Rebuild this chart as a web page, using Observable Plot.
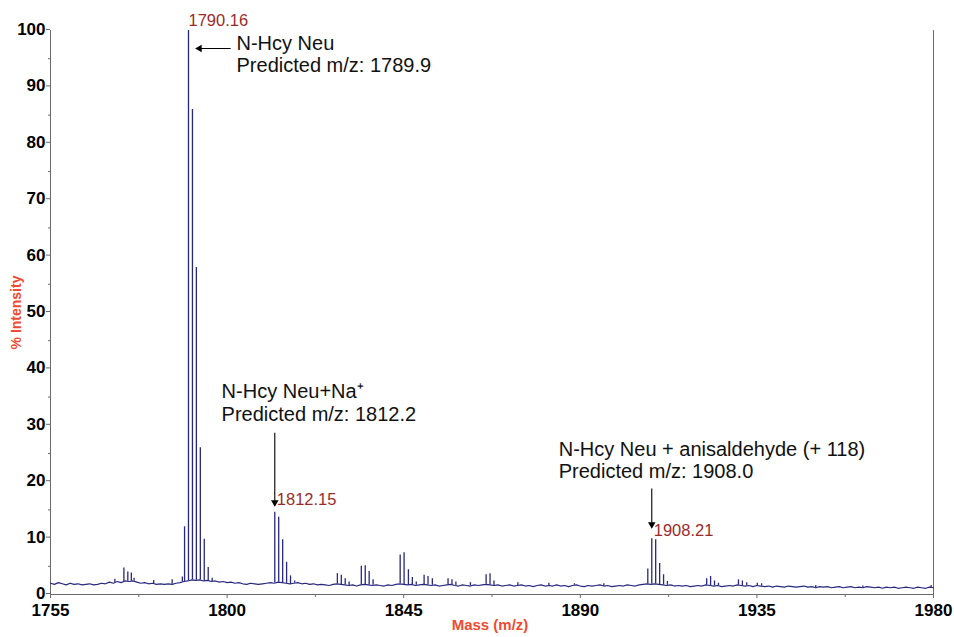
<!DOCTYPE html>
<html>
<head>
<meta charset="utf-8">
<script src="https://cdn.jsdelivr.net/npm/d3@7"></script>
<script src="https://cdn.jsdelivr.net/npm/@observablehq/plot@0.6"></script>
<style>
  body { margin: 0; background: #fff; }
  #chart svg { display: block; }
</style>
</head>
<body>
<div id="chart"></div>
<script>
// MALDI spectrum of N-Hcy Neu: noisy baseline sampled every 1 m/z from 1755 to 1980
const baselineStart = 1755;
const baselineValues = [
  2.0,1.8,2.1,1.9,1.7,2.0,1.8,1.9,1.7,1.8,
  1.9,1.7,1.8,2.0,1.9,2.2,2.0,2.3,2.1,2.4,
  2.3,2.4,2.2,2.0,2.1,1.9,2.0,1.8,1.9,1.8,
  1.9,1.8,2.0,2.1,2.3,2.4,2.6,2.5,2.6,2.4,
  2.5,2.3,2.4,2.2,2.3,2.1,2.2,2.0,2.1,1.9,
  1.8,2.0,1.9,1.8,1.9,2.0,2.1,2.0,2.2,2.1,
  2.0,1.9,2.0,2.1,1.9,2.0,1.8,1.9,1.7,1.8,
  1.7,1.6,1.8,1.9,1.8,1.7,1.6,1.7,1.5,1.7,
  1.8,1.7,1.6,1.7,1.6,1.5,1.7,1.6,1.8,1.9,
  1.8,1.7,1.8,1.6,1.7,1.8,1.7,1.6,1.7,1.5,
  1.6,1.7,1.8,1.6,1.5,1.7,1.6,1.5,1.7,1.6,
  1.7,1.8,1.7,1.6,1.7,1.5,1.6,1.7,1.5,1.6,
  1.7,1.5,1.6,1.4,1.6,1.7,1.5,1.6,1.5,1.7,
  1.5,1.6,1.4,1.6,1.7,1.5,1.4,1.6,1.5,1.6,
  1.7,1.5,1.6,1.4,1.5,1.6,1.5,1.7,1.6,1.5,
  1.7,1.8,1.9,1.8,1.9,1.8,1.7,1.6,1.7,1.5,
  1.6,1.5,1.6,1.4,1.5,1.6,1.5,1.7,1.6,1.5,
  1.6,1.4,1.5,1.6,1.5,1.7,1.6,1.5,1.6,1.4,
  1.6,1.5,1.4,1.5,1.3,1.5,1.4,1.3,1.5,1.4,
  1.3,1.4,1.5,1.3,1.4,1.2,1.4,1.3,1.4,1.2,
  1.3,1.4,1.2,1.3,1.4,1.2,1.3,1.2,1.4,1.3,
  1.2,1.3,1.1,1.3,1.2,1.3,1.1,1.2,1.3,1.2,
  1.1,1.3,1.2,1.1,1.3,1.2
];

// Centroided peaks: m/z and % intensity
const peakMz = [
  1771.4, 1773.7, 1774.7, 1775.6, 1776.3, 1781.3, 1786.0, 1788.6,
  1789.16, 1790.16, 1791.17, 1792.17, 1793.18, 1794.18, 1795.19, 1796.2,
  1812.15, 1813.15, 1814.16, 1815.16, 1816.16, 1817.2,
  1828.1, 1829.1, 1830.1, 1831.1,
  1834.2, 1835.2, 1836.2, 1837.2,
  1844.1, 1845.1, 1846.2, 1847.2, 1848.2,
  1850.2, 1851.2, 1852.3,
  1856.3, 1857.3, 1858.3, 1862.0,
  1866.0, 1867.0, 1868.0, 1874.1, 1882.0, 1888.5, 1896.0,
  1907.2, 1908.21, 1909.21, 1910.22, 1911.22, 1912.2,
  1922.2, 1923.2, 1924.2, 1925.2,
  1930.3, 1931.3, 1932.4, 1935.1, 1936.2, 1950.0, 1962.0, 1979.4
];
const peakIntensity = [
  2.7, 4.7, 4.0, 3.8, 2.9, 2.5, 2.6, 3.1,
  12, 100, 86, 58, 26, 9.8, 4.8, 2.9,
  14.6, 13.7, 9.7, 5.7, 3.3, 2.4,
  3.7, 3.4, 2.8, 2.2,
  5.0, 5.1, 4.1, 2.6,
  7.0, 7.4, 4.4, 3.0, 2.2,
  3.4, 3.2, 2.8,
  2.8, 2.6, 2.2, 2.1,
  3.5, 3.7, 2.4, 2.1, 2.0, 1.9, 1.9,
  4.5, 9.9, 9.7, 5.5, 3.5, 2.3,
  2.8, 3.2, 2.4, 2.0,
  2.6, 2.4, 2.1, 2.0, 1.9, 1.6, 1.5, 1.6
];

// Peaks that carry an m/z label
const labeledMz = [1790.16, 1812.15, 1908.21];

// Axis ticks
const xTicks = [1755, 1800, 1845, 1890, 1935, 1980];
const xMinorTicks = [1777.5, 1822.5, 1867.5, 1912.5, 1957.5];
const yTicks = [0, 10, 20, 30, 40, 50, 60, 70, 80, 90, 100];
const yMinorTicks = [5, 15, 25, 35, 45, 55, 65, 75, 85, 95];

// Annotation texts
const annotations = {
  parent: "N-Hcy Neu\nPredicted m/z: 1789.9",
  sodium: "N-Hcy Neu+Na\u207A\nPredicted m/z: 1812.2",
  adduct: "N-Hcy Neu + anisaldehyde (+ 118)\nPredicted m/z: 1908.0"
};

// ---- derived tables ----
const baseline = baselineValues.map((v, i) => ({mz: baselineStart + i, intensity: v}));
const baseAt = (mz) => {
  const i = Math.min(Math.max(Math.floor(mz - baselineStart), 0), baseline.length - 2);
  const t = mz - baseline[i].mz;
  return baseline[i].intensity * (1 - t) + baseline[i + 1].intensity * t;
};
const peaks = peakMz.map((mz, i) => ({mz, intensity: peakIntensity[i], base: baseAt(mz)}));
const labeled = labeledMz.map((mz) => peaks.find((p) => p.mz === mz));

const spectrumColor = "#28287e";
const axisColor = "#6a6a6a";
const labelRed = "#9a2b2b";
const titleRed = "#ef4b30";
const sans = "Liberation Sans, Arial, sans-serif";

const peakLabel = (p, dx, dy) =>
  Plot.text([p], {
    x: "mz", y: "intensity", text: (d) => d.mz.toFixed(2),
    textAnchor: "start", dx, dy,
    fill: labelRed, fontSize: 16.5, fontFamily: sans
  });

const arrow = (x1, y1, x2, y2, rotate, dx, dy) => [
  Plot.link([0], {x1: () => x1, y1: () => y1, x2: () => x2, y2: () => y2, stroke: "#000", strokeWidth: 1.1}),
  Plot.dot([0], {x: () => x2, y: () => y2, symbol: "triangle2", r: 3.6, fill: "#000", stroke: null, rotate, dx, dy})
];

const note = (text, x, y) =>
  Plot.text([text], {
    x: () => x, y: () => y, text: (d) => d, textAnchor: "start",
    lineAnchor: "middle", lineHeight: 1.12,
    fontSize: 20, fill: "#111", fontFamily: sans
  });

const chart = Plot.plot({
  width: 954,
  height: 637,
  marginLeft: 50,
  marginRight: 21,
  marginTop: 30,
  marginBottom: 43,
  x: {domain: [1755, 1980]},
  y: {domain: [0, 100]},
  style: {fontFamily: sans, background: "#fff", overflow: "visible"},
  marks: [
    // axes
    Plot.axisY({ticks: yTicks, tickSize: 4, tickPadding: 1, dy: -1, stroke: axisColor, fill: "#000",
      fontSize: 17, fontWeight: "bold", label: null}),
    Plot.axisY({ticks: yMinorTicks, tickSize: 2, tickFormat: () => "", stroke: axisColor, label: null}),
    Plot.axisX({ticks: xTicks, tickSize: 4, tickPadding: 5, tickFormat: (d) => String(d),
      stroke: axisColor, fill: "#000", fontSize: 17, fontWeight: "bold", label: null}),
    Plot.axisX({ticks: xMinorTicks, tickSize: 3, tickFormat: () => "", stroke: axisColor, label: null}),
    Plot.ruleX([1755], {stroke: axisColor}),
    Plot.ruleX([1980], {stroke: axisColor}),
    Plot.ruleY([0], {stroke: axisColor}),
    Plot.text(["% Intensity"], {frameAnchor: "left", textAnchor: "middle", dx: -34, rotate: -90,
      fill: titleRed, fontWeight: "bold", fontSize: 14}),
    Plot.text(["Mass (m/z)"], {frameAnchor: "bottom", dx: -2, dy: 35, fill: titleRed,
      fontWeight: "bold", fontSize: 15}),

    // spectrum
    Plot.line(baseline, {x: "mz", y: "intensity", stroke: spectrumColor, strokeWidth: 1.2}),
    Plot.ruleX(peaks, {x: "mz", y1: "base", y2: "intensity", stroke: spectrumColor, strokeWidth: 1.3}),

    // peak labels
    peakLabel(labeled[0], 0, -10),
    peakLabel(labeled[1], 2, -12),
    peakLabel(labeled[2], 2, -8),

    // annotations
    ...arrow(1800.9, 96.8, 1792.2, 96.8, -90, 3, 0),
    note(annotations.parent, 1802.4, 95.9),
    ...arrow(1812.15, 28.7, 1812.15, 15.8, 180, 0, -3),
    note(annotations.sodium, 1798.6, 34.1),
    ...arrow(1908.21, 18.8, 1908.21, 11.9, 180, 0, -3),
    note(annotations.adduct, 1884.5, 23.9)
  ]
});

document.getElementById("chart").append(chart);
</script>
</body>
</html>
